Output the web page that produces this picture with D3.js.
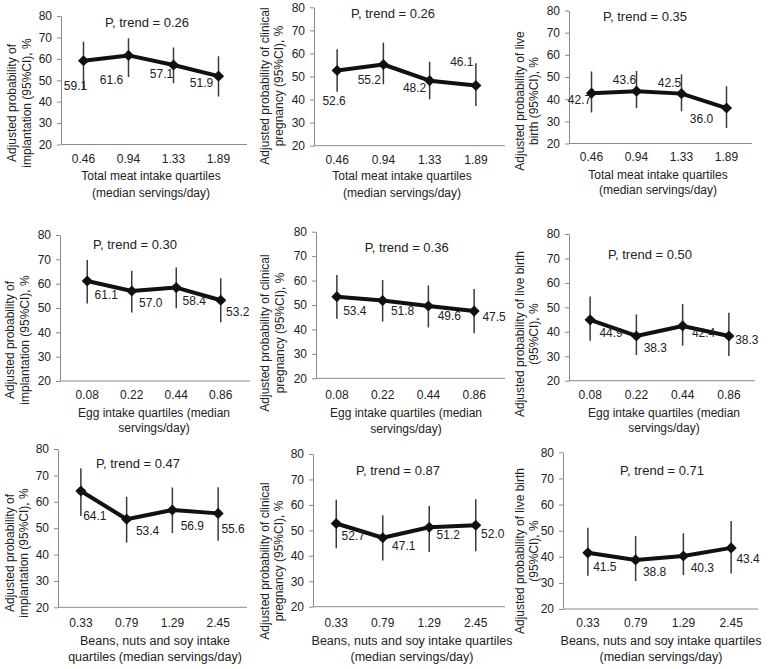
<!DOCTYPE html>
<html>
<head>
<meta charset="utf-8">
<script src="https://cdn.jsdelivr.net/npm/d3@7"></script>
<style>
  body { margin: 0; background: #fff; }
  svg { display: block; font-family: "Liberation Sans", Arial, sans-serif; }
  .tick text { font-size: 12px; fill: #222; }
</style>
</head>
<body>
<svg width="771" height="669"></svg>
<script>
// categories (median servings/day per quartile)
const meatQuartiles = ["0.46", "0.94", "1.33", "1.89"];
const eggQuartiles = ["0.08", "0.22", "0.44", "0.86"];
const beanQuartiles = ["0.33", "0.79", "1.29", "2.45"];
const yTicks = [20, 30, 40, 50, 60, 70, 80];

// adjusted probabilities and 95% CI, one array per panel
const meatImplant = [59.1, 61.6, 57.1, 51.9];
const meatImplantLo = [45.8, 51.5, 48.6, 42.4];
const meatImplantHi = [68.0, 69.6, 65.3, 61.2];
const meatPreg = [52.6, 55.2, 48.2, 46.1];
const meatPregLo = [43.4, 46.6, 40.1, 37.2];
const meatPregHi = [61.8, 64.7, 56.4, 55.7];
const meatBirth = [42.7, 43.6, 42.5, 36.0];
const meatBirthLo = [34.0, 36.0, 34.5, 27.0];
const meatBirthHi = [52.5, 52.7, 51.2, 45.8];

const eggImplant = [61.1, 57.0, 58.4, 53.2];
const eggImplantLo = [51.9, 48.1, 49.9, 44.1];
const eggImplantHi = [69.7, 65.3, 66.6, 62.2];
const eggPreg = [53.4, 51.8, 49.6, 47.5];
const eggPregLo = [44.4, 43.2, 40.8, 38.4];
const eggPregHi = [62.3, 60.2, 58.0, 56.5];
const eggBirth = [44.9, 38.3, 42.4, 38.3];
const eggBirthLo = [36.3, 30.5, 34.3, 30.1];
const eggBirthHi = [54.4, 47.1, 51.4, 47.8];

const beanImplant = [64.1, 53.4, 56.9, 55.6];
const beanImplantLo = [54.6, 44.5, 48.1, 45.2];
const beanImplantHi = [72.7, 61.9, 65.4, 65.5];
const beanPreg = [52.7, 47.1, 51.2, 52.0];
const beanPregLo = [43.0, 38.2, 41.5, 41.8];
const beanPregHi = [62.0, 55.9, 59.6, 62.2];
const beanBirth = [41.5, 38.8, 40.3, 43.4];
const beanBirthLo = [32.7, 30.7, 33.0, 33.6];
const beanBirthHi = [51.1, 47.9, 49.0, 53.7];

const pTrends = ["0.26", "0.26", "0.35", "0.30", "0.36", "0.50", "0.47", "0.87", "0.71"];

const xTitles = [
  ["Total meat intake quartiles", "(median servings/day)"],
  ["Total meat intake quartiles", "(median servings/day)"],
  ["Total meat intake quartiles", "(median servings/day)"],
  ["Egg intake quartiles (median", "servings/day)"],
  ["Egg intake quartiles (median", "servings/day)"],
  ["Egg intake quartiles (median", "servings/day)"],
  ["Beans, nuts and soy intake", "quartiles (median servings/day)"],
  ["Beans, nuts and soy intake quartiles", "(median servings/day)"],
  ["Beans, nuts and soy intake quartiles", "(median servings/day)"]
];
const yTitles = [
  ["Adjusted probability of", "implantation (95%CI), %"],
  ["Adjusted probability of clinical", "pregnancy (95%CI), %"],
  ["Adjusted probability of live", "birth (95%CI), %"],
  ["Adjusted probability of", "implantation (95%CI), %"],
  ["Adjusted probability of clinical", "pregnancy (95%CI), %"],
  ["Adjusted probability of live birth", "(95%CI), %"],
  ["Adjusted probability of", "implantation (95%CI), %"],
  ["Adjusted probability of clinical", "pregnancy (95%CI), %"],
  ["Adjusted probability of live birth", "(95%CI), %"]
];

const panelData = [
  [meatQuartiles, meatImplant, meatImplantLo, meatImplantHi],
  [meatQuartiles, meatPreg, meatPregLo, meatPregHi],
  [meatQuartiles, meatBirth, meatBirthLo, meatBirthHi],
  [eggQuartiles, eggImplant, eggImplantLo, eggImplantHi],
  [eggQuartiles, eggPreg, eggPregLo, eggPregHi],
  [eggQuartiles, eggBirth, eggBirthLo, eggBirthHi],
  [beanQuartiles, beanImplant, beanImplantLo, beanImplantHi],
  [beanQuartiles, beanPreg, beanPregLo, beanPregHi],
  [beanQuartiles, beanBirth, beanBirthLo, beanBirthHi]
];

// layout of each small chart (pixels)
const layout = [
  {ax: 61, band: [61, 241], axEnd: 247, top: 16, bot: 144.5, tickY: 159, xt: [176, 193], xtx: 151, xfs: 12, yt: [12, 27], yty: 103, pt: [147, 22], clip: [0, 255],
   offs: [[-8, 25], [-17, 24], [-12, 9], [-17, 7]]},
  {ax: 314, band: [314, 499], axEnd: 505, top: 7.3, bot: 145.7, tickY: 159.3, xt: [176, 193], xtx: 402, xfs: 12, yt: [265, 279], yty: 86, pt: [393, 13.3], clip: [255, 513],
   offs: [[-3, 30], [-14, 15], [-15, 7], [-14, -24]]},
  {ax: 569, band: [569, 749], axEnd: 752, top: 10.5, bot: 143.5, tickY: 157, xt: [175, 190], xtx: 658, xfs: 12, yt: [520, 534], yty: 101, pt: [645, 16.7], clip: [513, 771],
   offs: [[-12, 7], [-12, -11], [-12, -11], [-25, 11]]},
  {ax: 60, band: [65, 243], axEnd: 250, top: 235, bot: 381, tickY: 395, xt: [413, 428], xtx: 154, xfs: 12, yt: [10, 25], yty: 340, pt: [135, 244], clip: [0, 255],
   offs: [[19, 14], [19, 12], [18, 13], [17, 12]]},
  {ax: 316, band: [314, 497], axEnd: 505, top: 231.7, bot: 378.3, tickY: 395, xt: [413, 429], xtx: 406, xfs: 12, yt: [265, 280], yty: 333, pt: [406.7, 247.3], clip: [255, 513],
   offs: [[18, 14], [20, 10], [21, 10], [20, 6]]},
  {ax: 569, band: [567, 752], axEnd: 755, top: 234, bot: 380.7, tickY: 395, xt: [413, 428], xtx: 664, xfs: 12, yt: [520, 534], yty: 334, pt: [650, 254], clip: [513, 771],
   offs: [[21, 13], [19, 12], [21, 7], [18, 4]]},
  {ax: 58, band: [58, 241], axEnd: 247, top: 449, bot: 607.3, tickY: 623, xt: [641, 657], xtx: 155, xfs: 12.5, yt: [10, 24], yty: 553, pt: [138, 463], clip: [0, 255],
   offs: [[14, 25], [21, 12], [20, 16], [15, 15]]},
  {ax: 313, band: [313, 499], axEnd: 505, top: 454, bot: 606.7, tickY: 623, xt: [641, 657], xtx: 412, xfs: 12.5, yt: [265, 279], yty: 561, pt: [398, 470], clip: [255, 513],
   offs: [[17, 12], [21, 8], [19, 8], [17, 9]]},
  {ax: 563, band: [564, 755], axEnd: 758, top: 452.3, bot: 609, tickY: 623, xt: [641, 657], xtx: 661, xfs: 12.5, yt: [520, 534], yty: 551, pt: [662, 470], clip: [513, 771],
   offs: [[17, 14], [19, 12], [19, 12], [17, 11]]}
];

const svg = d3.select("svg");
const textColor = "#222";
const axisColor = "#8a8a8a";

const defs = svg.append("defs");

panelData.forEach((pd, i) => {
  const [cats, est, lo, hi] = pd;
  const L = layout[i];
  const rows = cats.map((c, j) => ({cat: c, v: est[j], lo: lo[j], hi: hi[j]}));

  defs.append("clipPath").attr("id", "clip" + i)
    .append("rect").attr("x", L.clip[0]).attr("y", 0)
    .attr("width", L.clip[1] - L.clip[0]).attr("height", 669);

  const g = svg.append("g").attr("clip-path", `url(#clip${i})`);

  const x = d3.scaleBand().domain(cats).range(L.band);
  const y = d3.scaleLinear().domain([20, 80]).range([L.bot, L.top]);
  const cx = d => x(d.cat) + x.bandwidth() / 2;

  // y axis
  const yAxis = g.append("g")
    .attr("transform", `translate(${L.ax},0)`)
    .call(d3.axisLeft(y).tickValues(yTicks).tickSize(4).tickSizeOuter(0).tickPadding(5));
  yAxis.selectAll("line").attr("stroke", axisColor);
  yAxis.select(".domain").attr("stroke", axisColor);
  yAxis.selectAll("text").attr("font-family", null).attr("font-size", null);

  // x axis
  const xAxis = g.append("g")
    .attr("transform", `translate(0,${L.bot})`)
    .call(d3.axisBottom(x).tickSize(0).tickPadding(L.tickY - L.bot - 4.2));
  xAxis.select(".domain").remove();
  xAxis.selectAll("text").attr("font-family", null).attr("font-size", null);
  g.append("line")
    .attr("x1", L.ax).attr("x2", L.axEnd)
    .attr("y1", L.bot).attr("y2", L.bot)
    .attr("stroke", axisColor);

  // error bars
  g.selectAll(".ci").data(rows).join("line")
    .attr("class", "ci")
    .attr("x1", cx).attr("x2", cx)
    .attr("y1", d => y(d.lo)).attr("y2", d => y(d.hi))
    .attr("stroke", "#3a3a3a").attr("stroke-width", 1.5);

  // trend line
  const line = d3.line().x(cx).y(d => y(d.v));
  g.append("path").datum(rows)
    .attr("d", line)
    .attr("fill", "none")
    .attr("stroke", "#111")
    .attr("stroke-width", 4)
    .attr("stroke-linejoin", "round");

  // diamond markers
  const diamond = d3.symbol().type(d3.symbolSquare).size(62);
  g.selectAll(".pt").data(rows).join("path")
    .attr("class", "pt")
    .attr("d", diamond)
    .attr("transform", d => `translate(${cx(d)},${y(d.v)}) rotate(45)`)
    .attr("fill", "#111");

  // value labels
  g.selectAll(".lbl").data(rows).join("text")
    .attr("class", "lbl")
    .attr("x", (d, j) => cx(d) + L.offs[j][0])
    .attr("y", (d, j) => y(d.v) + L.offs[j][1])
    .attr("dy", "0.35em")
    .attr("text-anchor", "middle")
    .attr("font-size", 12)
    .attr("fill", textColor)
    .text(d => d.v.toFixed(1));

  // p for trend
  g.append("text")
    .attr("x", L.pt[0]).attr("y", L.pt[1])
    .attr("dy", "0.35em")
    .attr("text-anchor", "middle")
    .attr("font-size", 13)
    .attr("fill", textColor)
    .text("P, trend = " + pTrends[i]);

  // x title
  xTitles[i].forEach((t, k) => {
    g.append("text")
      .attr("x", L.xtx).attr("y", L.xt[k])
      .attr("dy", "0.35em")
      .attr("text-anchor", "middle")
      .attr("font-size", L.xfs)
      .attr("fill", textColor)
      .text(t);
  });

  // y title
  yTitles[i].forEach((t, k) => {
    g.append("text")
      .attr("transform", `translate(${L.yt[k]},${L.yty}) rotate(-90)`)
      .attr("dy", "0.35em")
      .attr("text-anchor", "middle")
      .attr("font-size", 12)
      .attr("fill", textColor)
      .text(t);
  });
});
</script>
</body>
</html>
